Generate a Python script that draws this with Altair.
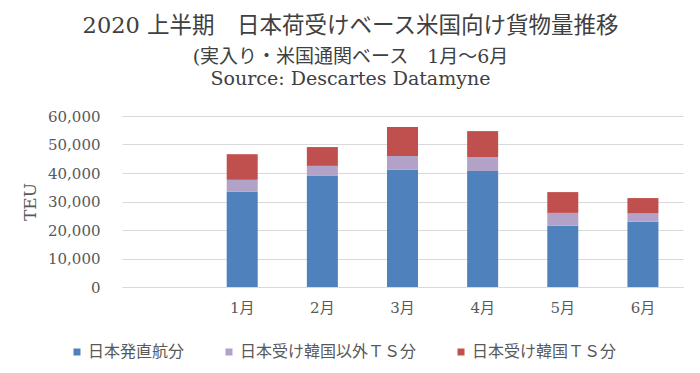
import altair as alt
import pandas as pd

months = ["1月", "2月", "3月", "4月", "5月", "6月"]
x_domain = [" "] + months
series_names = ["日本発直航分", "日本受け韓国以外ＴＳ分", "日本受け韓国ＴＳ分"]
series_colors = ["#4F81BD", "#B3A2C7", "#C0504D"]

direct = [33400, 39000, 41200, 40700, 21500, 22900]
other_ts = [4200, 3500, 4800, 4900, 4500, 2900]
korea_ts = [9000, 6600, 10100, 9100, 7300, 5400]

y_ticks = [0, 10000, 20000, 30000, 40000, 50000, 60000]

rows = []
for i, m in enumerate(months):
    for k, (name, vals) in enumerate(zip(series_names, [direct, other_ts, korea_ts])):
        rows.append({"month": m, "series": name, "value": vals[i], "idx": k})
df = pd.DataFrame(rows)

SERIF = "DejaVu Serif, Noto Sans CJK JP"
SANS = "Noto Sans CJK JP"
GRAY = "#595959"

chart = alt.Chart(df).mark_bar().encode(
    x=alt.X(
        "month:N",
        scale=alt.Scale(domain=x_domain, paddingInner=0.613, paddingOuter=0.3065),
        sort=x_domain,
        axis=alt.Axis(
            title=None, labelAngle=0, ticks=False, grid=False,
            domainColor="#D9D9D9", domainWidth=1,
            labelFont=SERIF, labelFontSize=15, labelColor=GRAY, labelPadding=13,
        ),
    ),
    y=alt.Y(
        "value:Q",
        stack="zero",
        scale=alt.Scale(domain=[0, 60000], nice=False),
        axis=alt.Axis(
            values=y_ticks, format=",.0f", title="TEU",
            titleFont=SERIF, titleFontSize=17, titleFontWeight="normal",
            titleColor=GRAY, titlePadding=8,
            labelFont=SERIF, labelFontSize=15, labelColor=GRAY, labelPadding=22,
            domain=False, ticks=False, gridColor="#D9D9D9", gridWidth=1,
        ),
    ),
    color=alt.Color(
        "series:N",
        scale=alt.Scale(domain=series_names, range=series_colors),
        legend=alt.Legend(
            title=None, orient="none", direction="horizontal",
            legendX=-53, legendY=228,
            symbolType="square", symbolSize=49, symbolStrokeWidth=0,
            labelFont=SANS, labelFontSize=16, labelColor=GRAY,
            labelOffset=3, columnPadding=36, labelLimit=400,
        ),
    ),
    order=alt.Order("idx:Q"),
).properties(
    width=561,
    height=171,
    autosize="none",
    padding={"left": 114, "top": 108, "right": 9, "bottom": 84},
    title=alt.TitleParams(
        text="2020 上半期　日本荷受けベース米国向け貨物量推移",
        subtitle=["(実入り・米国通関ベース　1月～6月", "Source: Descartes Datamyne"],
        anchor="middle", frame="group", dx=-52,
        font=SERIF, fontSize=22.5, fontWeight="normal", color="#404040",
        subtitleFont=SERIF, subtitleFontSize=19, subtitleColor="#404040",
        subtitleLineHeight=22, subtitlePadding=11, offset=20,
    ),
).configure_view(stroke=None)

chart.save("out.html", embed_options={"renderer": "svg", "actions": False})
